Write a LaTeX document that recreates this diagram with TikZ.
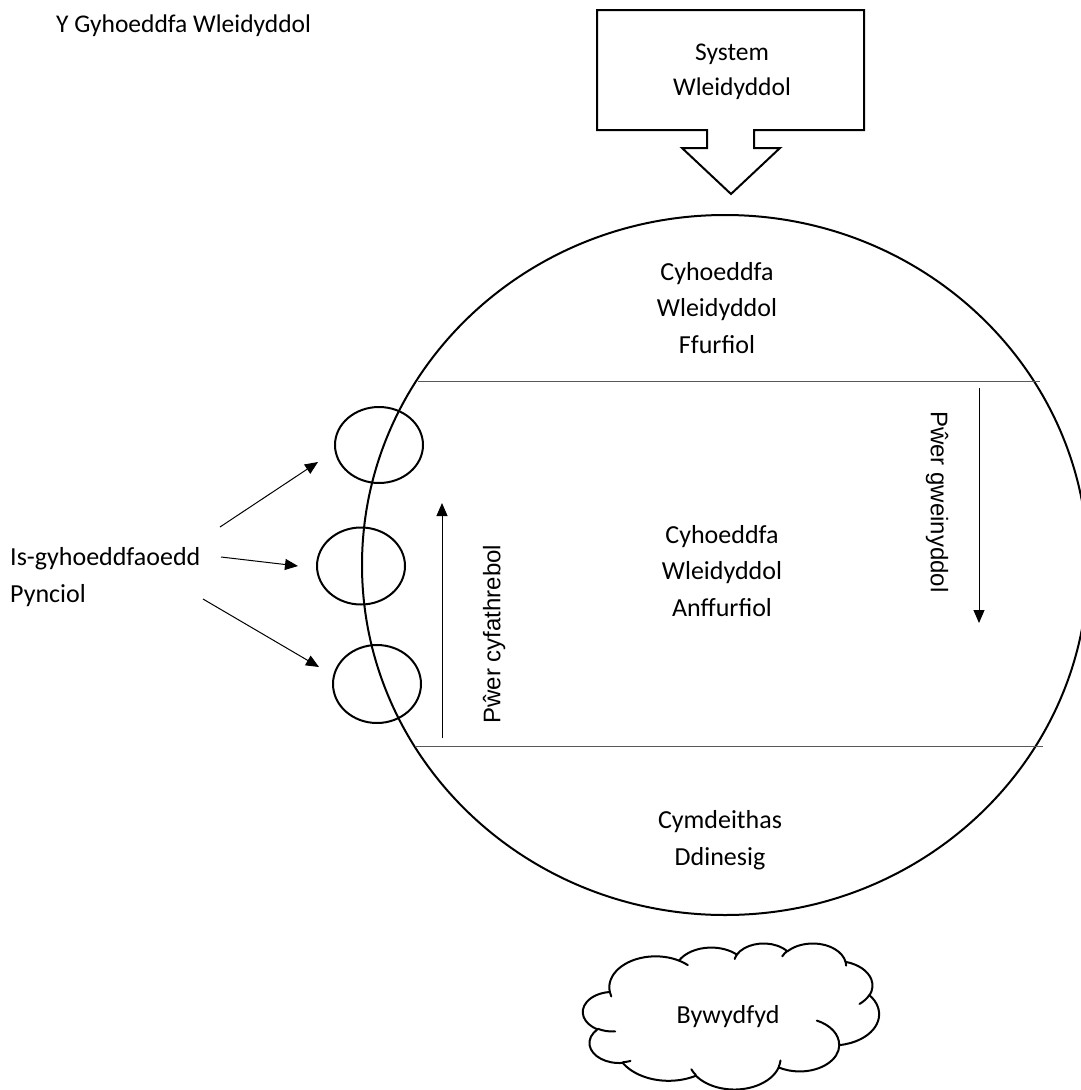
\documentclass[tikz,border=0pt]{standalone}
\usepackage{fontspec}
\setmainfont{Carlito}
\newfontfamily\arialf{Liberation Sans}
\usetikzlibrary{arrows.meta,shapes.geometric}
% OOXML-style elliptical arc: wR, hR, start (visual) angle, sweep
\newcommand\ooarc[4]{arc[x radius=#1, y radius=#2, start angle={atan2((#1)*sin(#3),(#2)*cos(#3))}, delta angle={mod(atan2((#1)*sin((#3)+(#4)),(#2)*cos((#3)+(#4)))-atan2((#1)*sin(#3),(#2)*cos(#3))+720,360)}]}
\begin{document}
\begin{tikzpicture}[x=1pt,y=-1pt,
  lbl/.style={font=\fontsize{26}{36.5}\selectfont, align=center, inner sep=0pt},
  lblsm/.style={font=\fontsize{25.5}{35}\selectfont, align=center, inner sep=0pt},
  rotlbl/.style={font=\arialf\fontsize{24}{28}\selectfont, inner sep=0pt},
  outline/.style={draw=black, line width=2pt},
  arr/.style={-{Triangle[length=13pt,width=11pt]}, line width=1pt, draw=black},
  divider/.style={line width=1pt, draw=black!65}
]
\useasboundingbox (0,0) rectangle (1080,1090);

% title
\node[lblsm, anchor=base west] (title) at (56,32) {Y Gyhoeddfa Wleidyddol};

% system box with down arrow
\draw[outline, line join=miter] (597,10) -- (864,10) -- (864,130) -- (754,130) -- (754,148)
  -- (780,148) -- (731,194) -- (682,148) -- (707,148) -- (707,130) -- (597,130) -- cycle;
\node[lblsm] (sys) at (732,72) {System\\Wleidyddol};

% big sphere
\node[outline, ellipse, minimum width=726, minimum height=700, inner sep=0pt] (big) at (725,565) {};

% dividers
\coordinate (h1l) at (418,381); \coordinate (h1r) at (1040,381);
\coordinate (h2l) at (415,746); \coordinate (h2r) at (1043,746);
\draw[divider] (h1l) -- (h1r);
\draw[divider] (h2l) -- (h2r);

% texts inside
\node[lbl] (topt) at (717,308) {Cyhoeddfa\\Wleidyddol\\Ffurfiol};
\node[lbl] (midt) at (722,571) {Cyhoeddfa\\Wleidyddol\\Anffurfiol};
\node[lbl] (bott) at (720,840) {Cymdeithas\\Ddinesig};

% power arrows
\coordinate (pcA) at (442,738); \coordinate (pcB) at (442,503);
\draw[arr] (pcA) -- (pcB);
\node[rotlbl, rotate=90] (pc) at (494,634) {Pŵer cyfathrebol};
\coordinate (pgA) at (979,388); \coordinate (pgB) at (979,623);
\draw[arr] (pgA) -- (pgB);
\node[rotlbl, rotate=-90] (pg) at (937,502) {Pŵer gweinyddol};

% small publics
\node[outline, ellipse, minimum width=88, minimum height=76, inner sep=0pt] (s1) at (379,445) {};
\node[outline, ellipse, minimum width=88, minimum height=77, inner sep=0pt] (s2) at (361,566) {};
\node[outline, ellipse, minimum width=88, minimum height=78, inner sep=0pt] (s3) at (377,684) {};

\node[lbl, align=left, anchor=west] (isl) at (10,577) {Is-gyhoeddfaoedd\\Pynciol};
\coordinate (a1s) at (220,527); \coordinate (a1e) at (318,462);
\coordinate (a2s) at (221,557); \coordinate (a2e) at (298,566);
\coordinate (a3s) at (203,599); \coordinate (a3e) at (319,667);
\draw[arr] (a1s) -- (a1e);
\draw[arr] (a2s) -- (a2e);
\draw[arr] (a3s) -- (a3e);

% cloud (lifeworld)
\begin{scope}[shift={(583,943)}, x=0.68519pt, y=-0.33796pt]
\draw[outline, line join=round] (39.00,143.70)
  \ooarc{67.53}{91.90}{-190.4875}{123.7805}
  \ooarc{53.33}{72.67}{-144.1024}{89.9452}
  \ooarc{43.65}{59.45}{-145.8079}{99.7230}
  \ooarc{48.57}{65.95}{-130.9861}{117.2417}
  \ooarc{53.33}{72.73}{-78.7089}{109.0269}
  \ooarc{67.75}{92.20}{-46.2673}{130.2690}
  \ooarc{57.85}{78.67}{0.6250}{114.0333}
  \ooarc{67.52}{92.15}{22.4516}{115.1726}
  \ooarc{77.20}{105.43}{66.2426}{75.7110}
  \ooarc{43.60}{59.18}{-274.9421}{146.7356}
  \ooarc{43.45}{59.45}{-246.8285}{152.5189}
  -- cycle;
\draw[outline, line cap=round]
  (46.93,261.77) \ooarc{43.45}{59.45}{86.7420}{26.4295}
  (69.28,348.99) \ooarc{43.60}{59.18}{73.6105}{11.4475}
  (164.78,390.90) \ooarc{67.52}{92.15}{137.6242}{14.0811}
  (288.27,347.51) \ooarc{67.52}{92.15}{6.4533}{15.9984}
  (341.29,229.54) \ooarc{57.85}{78.67}{-70.2924}{70.9174}
  (417.98,153.54) \ooarc{53.33}{72.73}{30.3180}{27.7515}
  (383.24,54.26) \ooarc{48.57}{65.95}{-13.7443}{14.8589}
  (290.78,39.52) \ooarc{48.57}{65.95}{-149.1815}{18.1954}
  (221.41,47.20) \ooarc{43.65}{59.45}{-163.4943}{17.6864}
  (140.00,51.92) \ooarc{67.53}{91.90}{-66.7070}{12.3194}
  (41.27,157.89) \ooarc{67.53}{91.90}{157.6544}{11.8582};
\end{scope}
\node[lbl] (life) at (728,1017) {Bywydfyd};
\end{tikzpicture}
\end{document}
